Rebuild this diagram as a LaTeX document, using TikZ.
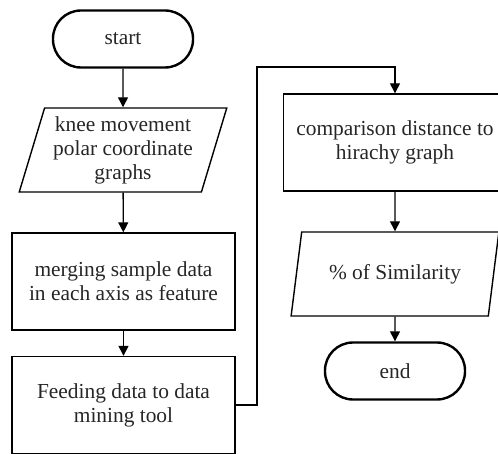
\documentclass[tikz,border=0pt]{standalone}
\usepackage{fontspec}
\setmainfont{Liberation Serif}
\usetikzlibrary{shapes.geometric, arrows.meta}

\begin{document}
\begin{tikzpicture}[x=0.5pt, y=-0.5pt, >={Triangle[length=5pt, width=5pt]},
    every node/.style={font=\fontsize{10.7pt}{12pt}\selectfont, text=black!85, align=center},
    terminal/.style={draw, line width=1.2pt, rounded corners=14pt, minimum width=70pt, minimum height=28.5pt},
    process/.style={draw, line width=0.7pt, minimum width=111.5pt, minimum height=48.5pt},
    io/.style={draw, line width=0.7pt, trapezium, trapezium left angle=72, trapezium right angle=108,
        trapezium stretches=true, inner sep=1pt, minimum width=104pt, minimum height=42pt},
    flow/.style={->, line width=0.7pt}]

    % Area of the page
    \useasboundingbox (0,0) rectangle (498,454);
    \clip (0,0) rectangle (498,454);

    % Left column
    \node[terminal] (start) at (123,39) {start};
    \node[io] (knee) at (123,150) {knee movement\\polar coordinate\\graphs};
    \node[process] (merging) at (123.5,281.5) {merging sample data\\in each axis as feature};
    \node[process] (feeding) at (123.5,405) {Feeding data to data\\mining tool};

    % Right column
    \node[process] (comparison) at (395,142.5) {comparison distance to\\hirachy graph};
    \node[io] (similarity) at (395,274) {\% of Similarity};
    \node[terminal] (stop) at (395,371) {end};

    % Arrows
    \draw[flow] (start) -- (knee);
    \draw[flow] (knee) -- (merging);
    \draw[flow] (merging) -- (feeding);
    \draw[flow] (comparison) -- (similarity);
    \draw[flow] (similarity) -- (stop);

    % Jump to the second column
    \coordinate (turn) at (257,67);
    \draw[flow] (feeding.east) -| (turn) -| (comparison.north);

\end{tikzpicture}
\end{document}
